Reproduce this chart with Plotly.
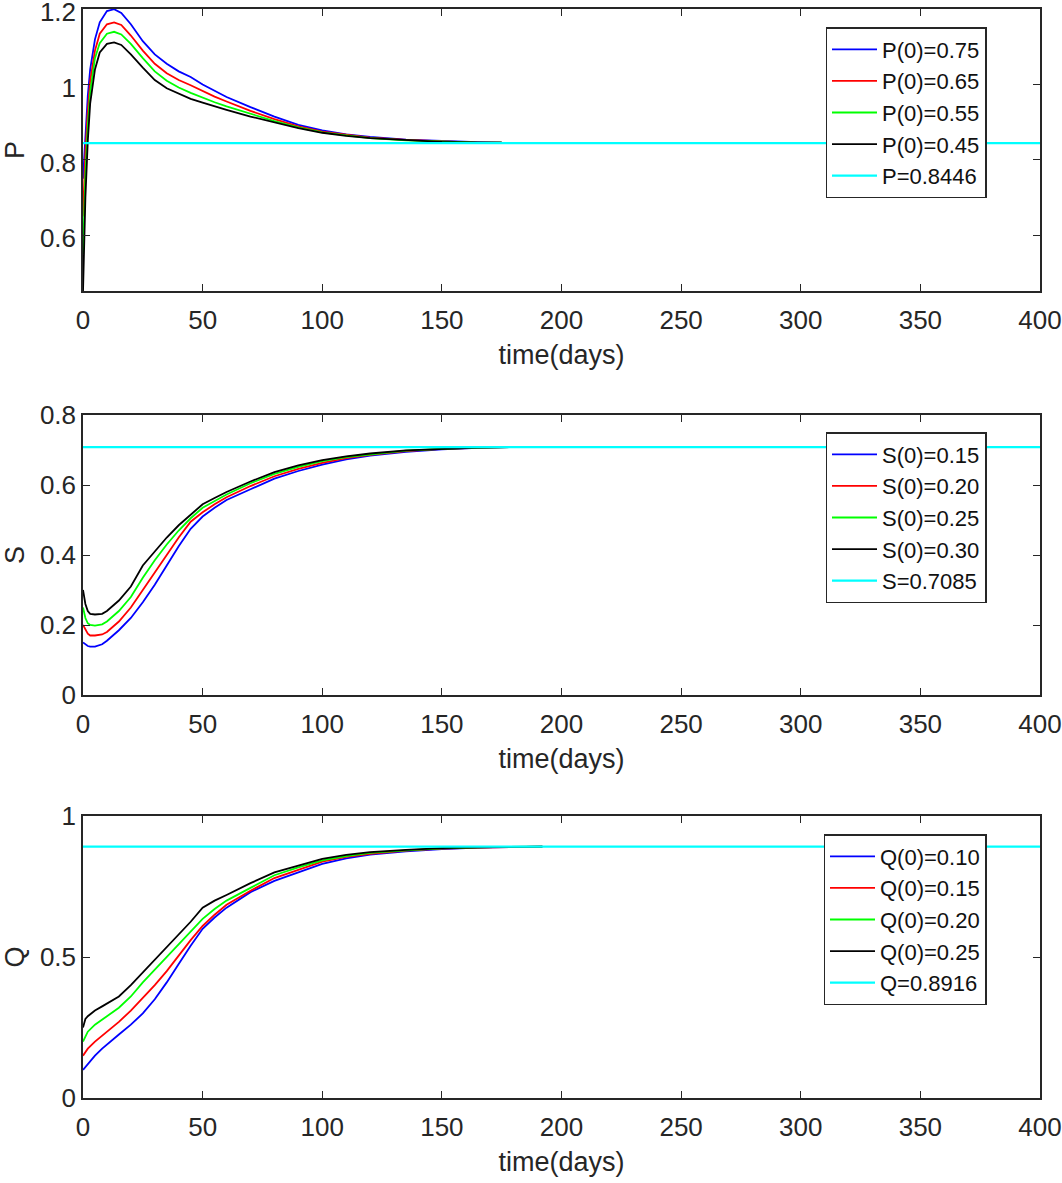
import plotly.graph_objects as go

# ---------------- data ----------------
days_P = [0, 1, 2, 3, 5, 7, 10, 13, 16, 20, 25, 30, 35, 40, 45, 50, 55, 60, 70, 80, 90, 100, 110, 120, 135, 150, 165, 175]
P_075 = [0.75, 0.88, 0.97, 1.04, 1.12, 1.165, 1.195, 1.20, 1.19, 1.16, 1.115, 1.08, 1.055, 1.035, 1.02, 1.0, 0.983, 0.967, 0.94, 0.915, 0.893, 0.878, 0.868, 0.861, 0.854, 0.85, 0.847, 0.846]
P_065 = [0.65, 0.82, 0.93, 1.01, 1.09, 1.135, 1.16, 1.165, 1.158, 1.13, 1.09, 1.055, 1.03, 1.012, 0.998, 0.982, 0.968, 0.955, 0.93, 0.908, 0.889, 0.875, 0.866, 0.859, 0.853, 0.849, 0.846, 0.846]
P_055 = [0.55, 0.76, 0.89, 0.98, 1.07, 1.11, 1.135, 1.14, 1.133, 1.108, 1.07, 1.035, 1.01, 0.992, 0.978, 0.965, 0.953, 0.942, 0.922, 0.903, 0.886, 0.873, 0.865, 0.858, 0.852, 0.849, 0.846, 0.846]
P_045 = [0.45, 0.70, 0.85, 0.95, 1.04, 1.085, 1.108, 1.112, 1.105, 1.08, 1.045, 1.012, 0.99, 0.975, 0.962, 0.952, 0.942, 0.933, 0.915, 0.899, 0.884, 0.872, 0.864, 0.858, 0.852, 0.848, 0.846, 0.846]
P_eq = 0.8446

days_S = [0, 1, 2, 3, 5, 8, 10, 15, 20, 25, 30, 35, 40, 45, 50, 55, 60, 70, 80, 90, 100, 110, 120, 135, 150, 165, 180]
S_015 = [0.15, 0.145, 0.14, 0.138, 0.138, 0.145, 0.155, 0.185, 0.22, 0.265, 0.315, 0.37, 0.425, 0.475, 0.51, 0.535, 0.557, 0.588, 0.618, 0.64, 0.658, 0.673, 0.684, 0.695, 0.702, 0.706, 0.7085]
S_020 = [0.20, 0.185, 0.175, 0.17, 0.17, 0.173, 0.18, 0.21, 0.25, 0.3, 0.35, 0.4, 0.45, 0.495, 0.522, 0.545, 0.565, 0.597, 0.625, 0.646, 0.663, 0.677, 0.686, 0.697, 0.703, 0.706, 0.7085]
S_025 = [0.25, 0.22, 0.205, 0.2, 0.198, 0.202, 0.21, 0.24, 0.28, 0.335, 0.385, 0.43, 0.47, 0.505, 0.535, 0.555, 0.573, 0.605, 0.632, 0.652, 0.668, 0.68, 0.688, 0.698, 0.703, 0.707, 0.7085]
S_030 = [0.30, 0.26, 0.24, 0.232, 0.23, 0.232, 0.24, 0.27, 0.31, 0.37, 0.41, 0.45, 0.485, 0.515, 0.545, 0.563, 0.58, 0.61, 0.637, 0.656, 0.671, 0.682, 0.69, 0.699, 0.704, 0.707, 0.7085]
S_eq = 0.7085

days_Q = [0, 1, 2, 5, 8, 10, 15, 20, 25, 30, 35, 40, 45, 50, 55, 60, 70, 80, 90, 100, 110, 120, 135, 150, 165, 180, 192]
Q_010 = [0.10, 0.11, 0.12, 0.15, 0.175, 0.19, 0.225, 0.26, 0.3, 0.35, 0.41, 0.475, 0.54, 0.6, 0.64, 0.675, 0.73, 0.77, 0.8, 0.83, 0.85, 0.863, 0.875, 0.883, 0.888, 0.891, 0.8916]
Q_015 = [0.15, 0.165, 0.175, 0.2, 0.22, 0.235, 0.27, 0.31, 0.355, 0.4, 0.45, 0.505, 0.56, 0.61, 0.65, 0.685, 0.735, 0.78, 0.81, 0.838, 0.855, 0.866, 0.877, 0.884, 0.888, 0.891, 0.8916]
Q_020 = [0.20, 0.22, 0.235, 0.26, 0.28, 0.29, 0.32, 0.36, 0.41, 0.455, 0.5, 0.545, 0.59, 0.635, 0.67, 0.7, 0.745, 0.79, 0.818, 0.843, 0.858, 0.869, 0.878, 0.885, 0.889, 0.891, 0.8916]
Q_025 = [0.25, 0.28, 0.29, 0.31, 0.325, 0.335, 0.36, 0.4, 0.445, 0.49, 0.535, 0.58, 0.625, 0.675, 0.70, 0.72, 0.762, 0.8, 0.825, 0.848, 0.862, 0.872, 0.88, 0.886, 0.889, 0.891, 0.8916]
Q_eq = 0.8916

x_range = [0, 400]
x_ticks = [0, 50, 100, 150, 200, 250, 300, 350, 400]

panels = [
    dict(var="P", days=days_P, series=[("P(0)=0.75", P_075), ("P(0)=0.65", P_065), ("P(0)=0.55", P_055), ("P(0)=0.45", P_045)],
         eq=P_eq, eqname="P=0.8446", yrange=[0.452, 1.2005], yticks=[0.6, 0.8, 1.0, 1.2], yticktext=["0.6", "0.8", "1", "1.2"]),
    dict(var="S", days=days_S, series=[("S(0)=0.15", S_015), ("S(0)=0.20", S_020), ("S(0)=0.25", S_025), ("S(0)=0.30", S_030)],
         eq=S_eq, eqname="S=0.7085", yrange=[0, 0.8], yticks=[0, 0.2, 0.4, 0.6, 0.8], yticktext=["0", "0.2", "0.4", "0.6", "0.8"]),
    dict(var="Q", days=days_Q, series=[("Q(0)=0.10", Q_010), ("Q(0)=0.15", Q_015), ("Q(0)=0.20", Q_020), ("Q(0)=0.25", Q_025)],
         eq=Q_eq, eqname="Q=0.8916", yrange=[0, 1], yticks=[0, 0.5, 1], yticktext=["0", "0.5", "1"]),
]

colors = ["#0000ff", "#ff0000", "#00ff00", "#000000"]
eq_color = "#00ffff"

W, H = 1062, 1183


def px_x(px):
    return px / W


def px_y(py):
    return 1 - py / H


x_dom = [px_x(83), px_x(1040)]
y_px = [(9, 291), (415, 695), (816, 1098)]
legend_px = [(906, 27), (906, 432), (905, 834)]   # (centre x, top y)

FONT = "Liberation Sans, Arial, sans-serif"
TXT = "#262626"

fig = go.Figure()
layout = dict(
    width=W, height=H, margin=dict(l=0, r=0, t=0, b=0),
    paper_bgcolor="white", plot_bgcolor="white",
    font=dict(family=FONT, size=26, color=TXT),
    showlegend=True,
)

for i, p in enumerate(panels):
    n = "" if i == 0 else str(i + 1)
    xa, ya = "x" + n, "y" + n
    lg = "legend" + n
    for (name, vals), c in zip(p["series"], colors):
        fig.add_trace(go.Scatter(x=p["days"], y=vals, mode="lines", name=name,
                                 line=dict(color=c, width=1.8), xaxis=xa, yaxis=ya,
                                 legend=lg, legendgroup=name + n))
    fig.add_trace(go.Scatter(x=x_range, y=[p["eq"], p["eq"]], mode="lines", name=p["eqname"],
                             line=dict(color=eq_color, width=2.2), xaxis=xa, yaxis=ya,
                             legend=lg, legendgroup=p["eqname"]))
    top, bot = y_px[i]
    common = dict(showline=True, linecolor=TXT, linewidth=1.5, mirror="ticks", ticks="inside",
                  ticklen=7, tickcolor=TXT, showgrid=False, zeroline=False, automargin=False,
                  ticklabeloverflow="allow",
                  tickfont=dict(family=FONT, size=26, color=TXT))
    layout["xaxis" + n] = dict(domain=x_dom, range=x_range, tickvals=x_ticks, anchor=ya,
                               ticklabelstandoff=5,
                               title=dict(text="time(days)", font=dict(family=FONT, size=27, color=TXT), standoff=11),
                               **common)
    layout["yaxis" + n] = dict(domain=[px_y(bot), px_y(top)], range=p["yrange"], tickvals=p["yticks"],
                               ticktext=p["yticktext"], anchor=xa,
                               ticklabelshift=(3 if i == 0 else 0),
                               title=dict(text=p["var"], font=dict(family=FONT, size=27, color=TXT), standoff=8),
                               **common)
    lx, ly = legend_px[i]
    layout[lg] = dict(x=px_x(lx), y=px_y(ly), xanchor="center", yanchor="top",
                      bgcolor="white", bordercolor=TXT, borderwidth=1.5,
                      font=dict(family=FONT, size=22, color="#111111"),
                      tracegroupgap=0, itemwidth=45, traceorder="grouped")

fig.update_layout(**layout)
# remove the browser's default 8px body margin so the figure fills the window exactly
fig.write_html("out.html", config={"displayModeBar": False},
               post_script="document.body.style.margin='0';document.body.style.overflow='hidden';")
